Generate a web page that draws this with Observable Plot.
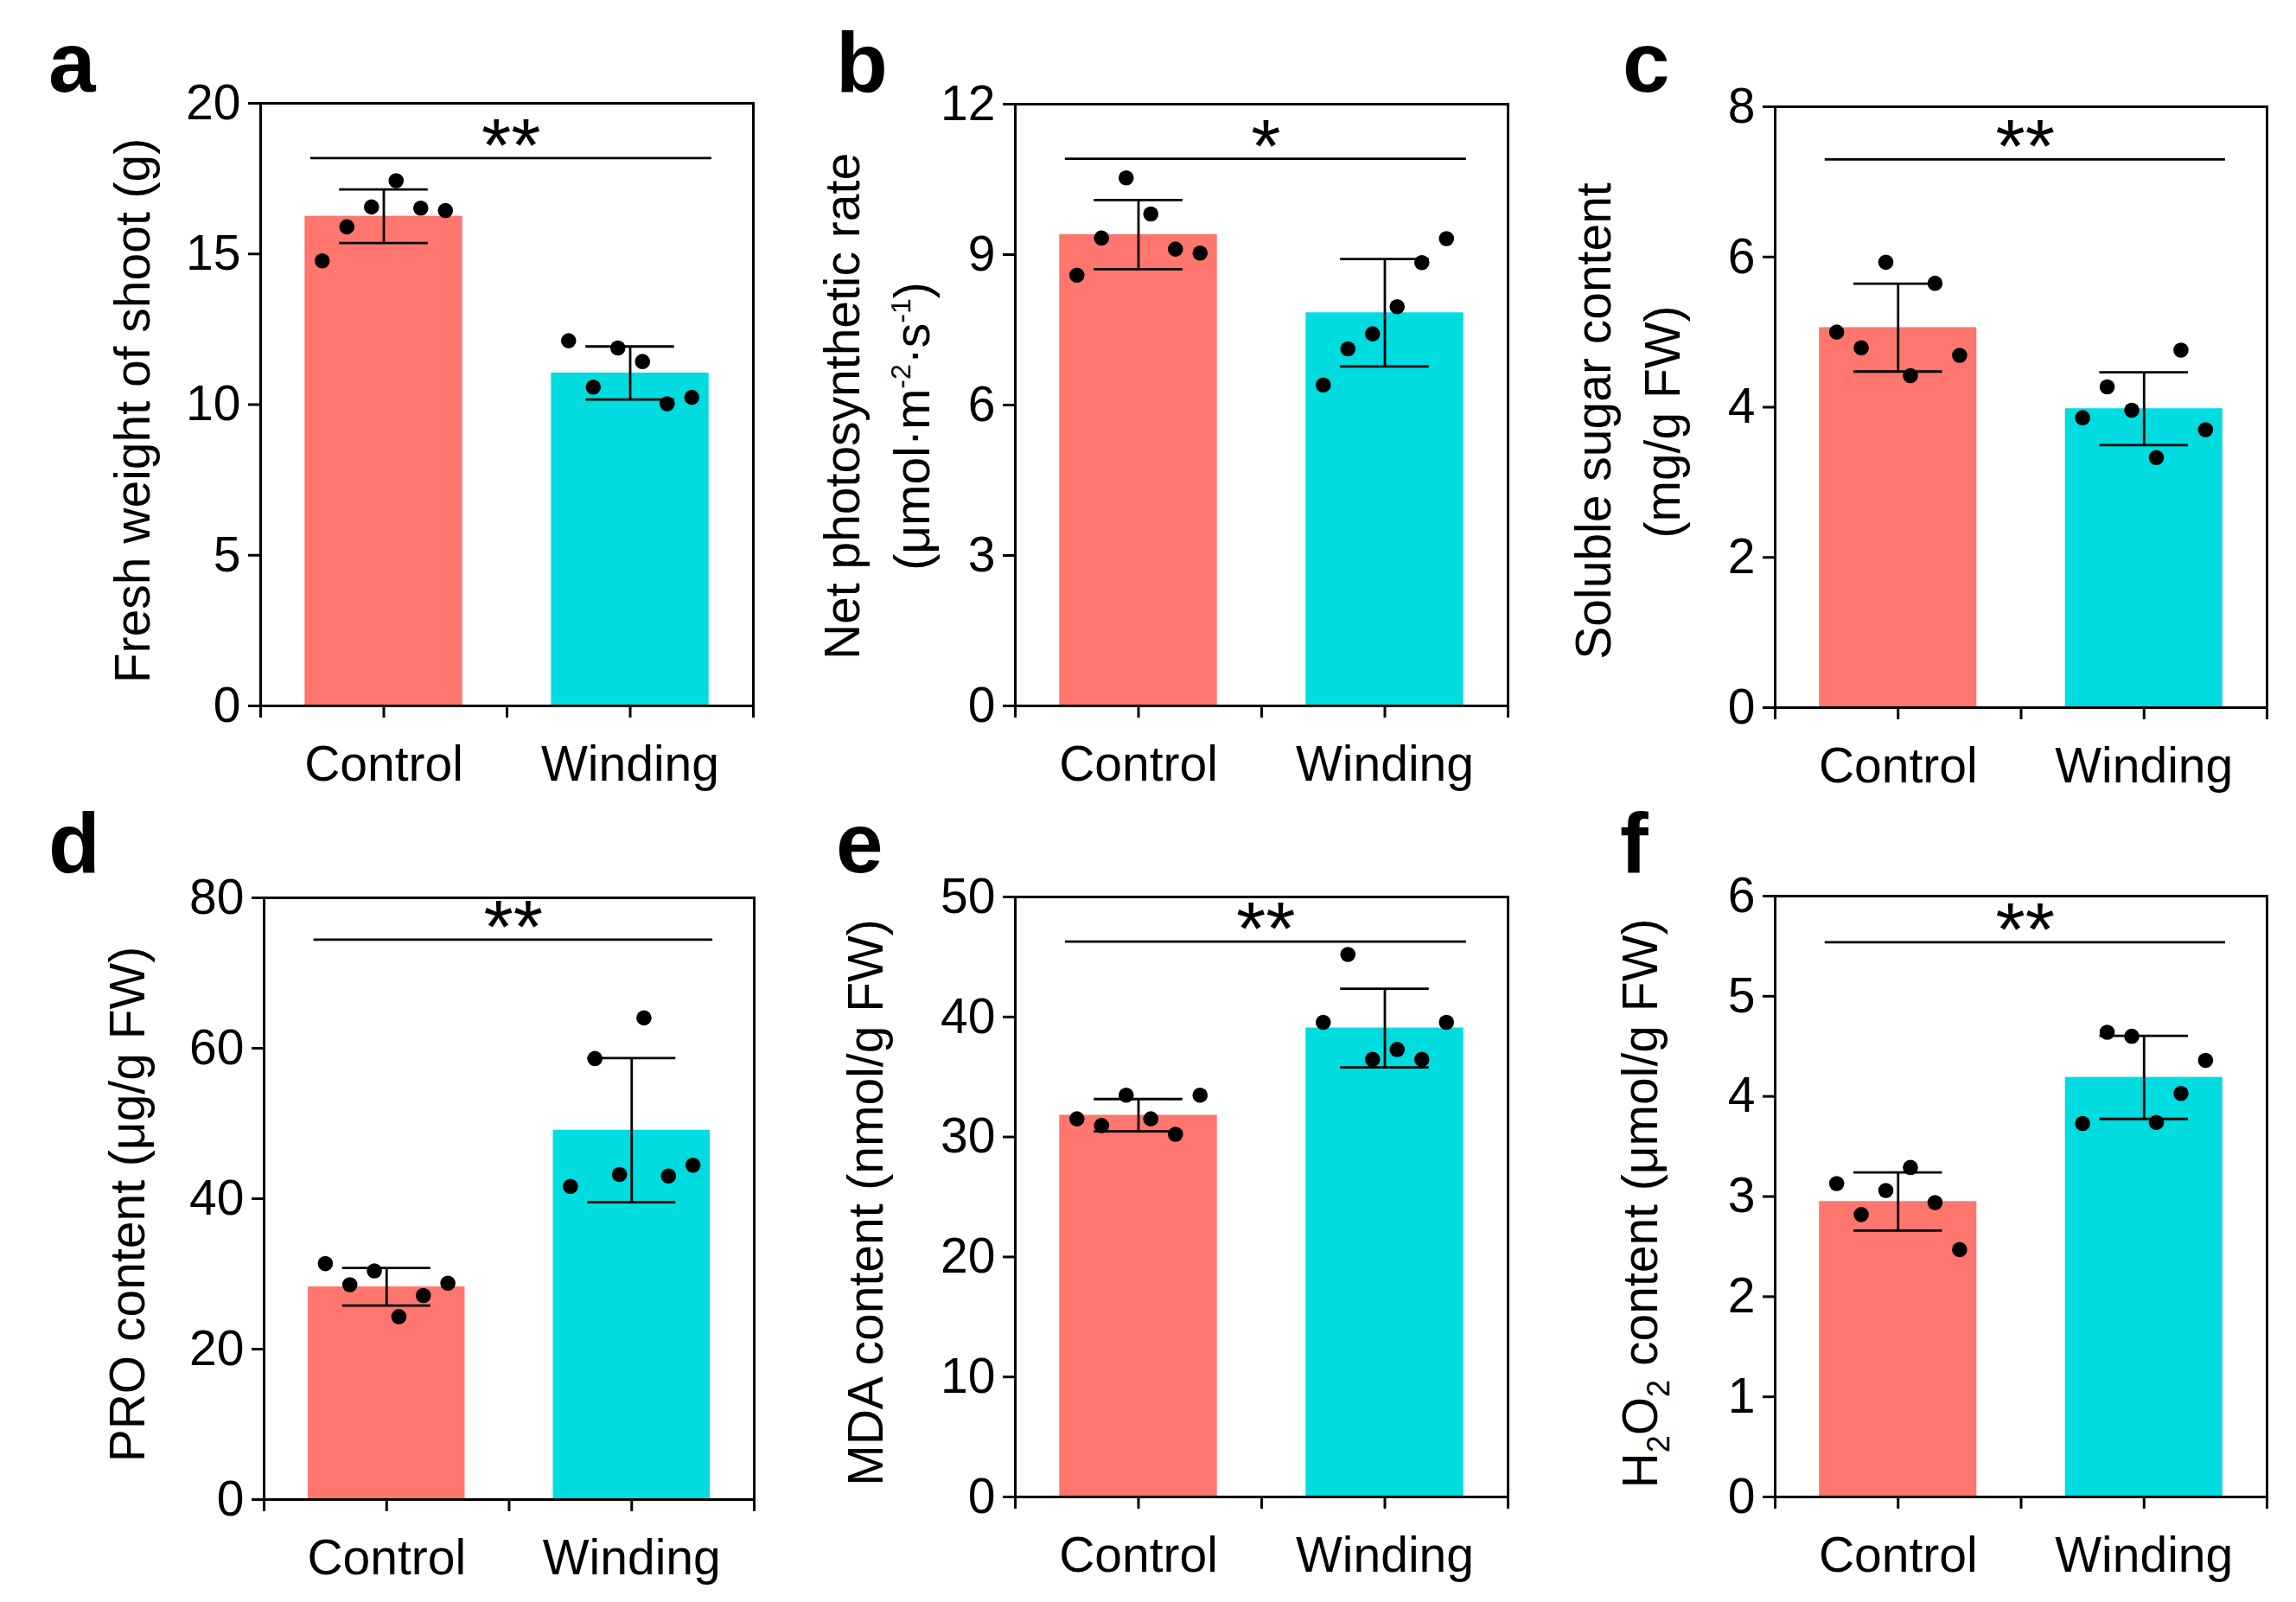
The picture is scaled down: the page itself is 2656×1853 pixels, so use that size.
<!DOCTYPE html>
<html>
<head>
<meta charset="utf-8">
<script src="https://cdn.jsdelivr.net/npm/d3@7"></script>
<script src="https://cdn.jsdelivr.net/npm/@observablehq/plot@0.6"></script>
<style>
  html, body { margin: 0; padding: 0; background: #ffffff; }
  #fig { position: relative; width: 2656px; height: 1853px; background: #ffffff; overflow: hidden;
         font-family: "Liberation Sans", Arial, sans-serif; }
  .panel { position: absolute; }
</style>
</head>
<body>
<div id="fig"></div>
<script>
// ---------------- data ----------------
const groups = ["Control", "Winding"];
const panelLetters = ["a", "b", "c", "d", "e", "f"];
const yMax = [20, 12, 8, 80, 50, 6];
const yTickValues = [
  [0, 5, 10, 15, 20],
  [0, 3, 6, 9, 12],
  [0, 2, 4, 6, 8],
  [0, 20, 40, 60, 80],
  [0, 10, 20, 30, 40, 50],
  [0, 1, 2, 3, 4, 5, 6]
];
const groupMeans = [
  [16.25, 11.05],
  [9.40, 7.84],
  [5.06, 3.98],
  [28.29, 49.11],
  [31.81, 39.08],
  [2.95, 4.19]
];
const groupSDs = [
  [0.89, 0.88],
  [0.69, 1.07],
  [0.585, 0.485],
  [2.50, 9.59],
  [1.35, 3.28],
  [0.29, 0.415]
];
const controlReplicates = [
  [14.77, 15.90, 16.56, 17.43, 16.52, 16.44],
  [8.59, 9.33, 10.53, 9.81, 9.11, 9.03],
  [5.00, 4.79, 5.93, 4.42, 5.65, 4.69],
  [31.37, 28.56, 30.41, 24.32, 27.12, 28.77],
  [31.51, 30.95, 33.48, 31.51, 30.22, 33.48],
  [3.13, 2.82, 3.06, 3.29, 2.94, 2.47]
];
const windingReplicates = [
  [12.12, 10.58, 11.88, 11.43, 10.03, 10.24],
  [6.40, 7.12, 7.42, 7.96, 8.84, 9.32],
  [3.86, 4.27, 3.96, 3.33, 4.76, 3.70],
  [41.64, 58.63, 43.22, 64.04, 43.01, 44.45],
  [39.55, 45.21, 36.47, 37.29, 36.47, 39.55],
  [3.73, 4.64, 4.60, 3.74, 4.03, 4.36]
];
const sigLevels = [18.18, 10.91, 7.30, 74.45, 46.28, 5.54];
const sigMarks = ["**", "*", "**", "**", "**", "**"];
// axis titles: lines of [text, kind] segments (kind: "", "sup", "sub")
const yTitles = [
  [[["Fresh weight of shoot (g)", ""]]],
  [[["Net photosynthetic rate", ""]],
   [["(μmol·m", ""], ["-2", "sup"], ["·s", ""], ["-1", "sup"], [")", ""]]],
  [[["Soluble sugar content", ""]], [["(mg/g FW)", ""]]],
  [[["PRO content (μg/g FW)", ""]]],
  [[["MDA content (nmol/g FW)", ""]]],
  [[["H", ""], ["2", "sub"], ["O", ""], ["2", "sub"], [" content (μmol/g FW)", ""]]]
];

// ---------------- layout & style ----------------
const barColors = ["#FF766E", "#00DCE0"];
const frames = [
  {L: 301, R: 871, T: 119, B: 816},
  {L: 1174, R: 1744, T: 120, B: 816},
  {L: 2053, R: 2622, T: 123, B: 818},
  {L: 305, R: 872, T: 1038, B: 1734},
  {L: 1174, R: 1744, T: 1037, B: 1731},
  {L: 2053, R: 2622, T: 1036, B: 1731}
];
const letterPos = [[-245, -13], [-207, -14], [-176, -17], [-249, -29], [-207, -28], [-179, -27]];
const titlePos = [
  [{bx: -128, cy: 356}],
  [{bx: -180, cy: 350}, {bx: -99, cy: 373}],
  [{bx: -190, cy: 364}, {bx: -110, cy: 365}],
  [{bx: -138, cy: 355}],
  [{bx: -153, cy: 354}],
  [{bx: -136, cy: 356}]
];
const BAR_HALF = 0.32, CAP_HALF = 0.18, DOT_STEP = 0.1;
const SIG_SPAN = [0.703, 2.331];
const FONT = "'Liberation Sans', Arial, sans-serif";
const mL = 301, mT = 119, mR = 8, mB = 104;

const fig = document.getElementById("fig");

panelLetters.forEach((letter, i) => {
  const fr = frames[i];
  const W = fr.R - fr.L, H = fr.B - fr.T;
  const bars = groups.map((g, j) => ({g, pos: j + 1, mean: groupMeans[i][j], sd: groupSDs[i][j]}));
  const reps = [];
  [controlReplicates[i], windingReplicates[i]].forEach((vals, j) =>
    vals.forEach((v, k) => reps.push({g: groups[j], pos: j + 1 + (k - (vals.length - 1) / 2) * DOT_STEP, v}))
  );

  const svg = Plot.plot({
    width: mL + W + mR,
    height: mT + H + mB,
    marginLeft: mL, marginTop: mT, marginRight: mR, marginBottom: mB,
    style: {fontFamily: FONT, fontSize: "57px", background: "none", maxWidth: "none", overflow: "visible", color: "black"},
    x: {domain: [0.5, 2.5], label: null},
    y: {domain: [0, yMax[i]], label: null},
    color: {domain: groups, range: barColors},
    marks: [
      Plot.rect(bars, {x1: d => d.pos - BAR_HALF, x2: d => d.pos + BAR_HALF, y1: () => 0, y2: "mean", fill: "g"}),
      Plot.ruleX(bars, {x: "pos", y1: d => d.mean - d.sd, y2: d => d.mean + d.sd, stroke: "black", strokeWidth: 2.8}),
      Plot.ruleY(bars, {y: d => d.mean + d.sd, x1: d => d.pos - CAP_HALF, x2: d => d.pos + CAP_HALF, stroke: "black", strokeWidth: 2.8}),
      Plot.ruleY(bars, {y: d => d.mean - d.sd, x1: d => d.pos - CAP_HALF, x2: d => d.pos + CAP_HALF, stroke: "black", strokeWidth: 2.8}),
      Plot.dot(reps, {x: "pos", y: "v", r: 8.8, fill: "black", stroke: "none"}),
      Plot.ruleY([sigLevels[i]], {y: d => d, x1: () => SIG_SPAN[0], x2: () => SIG_SPAN[1], stroke: "black", strokeWidth: 2.8}),
      Plot.text([sigLevels[i]], {x: () => (SIG_SPAN[0] + SIG_SPAN[1]) / 2, y: d => d, text: () => sigMarks[i],
        lineAnchor: "bottom", dy: 15, fontSize: 88, fill: "black"}),
      Plot.frame({stroke: "black", strokeWidth: 3}),
      Plot.axisY({ticks: yTickValues[i], tickFormat: d => String(d), tickSize: 14, tickPadding: 9, strokeWidth: 3, label: null}),
      Plot.axisX({ticks: [0.5, 1, 1.5, 2, 2.5], tickFormat: d => (d === 1 ? groups[0] : d === 2 ? groups[1] : ""),
        tickSize: 14, tickPadding: 32, strokeWidth: 3, label: null})
    ]
  });

  const s = d3.select(svg);
  // panel letter
  s.append("text")
    .attr("x", mL + letterPos[i][0])
    .attr("y", mT + letterPos[i][1])
    .attr("text-anchor", "start")
    .attr("font-size", 98).attr("font-weight", "bold").attr("fill", "black")
    .attr("font-family", FONT)
    .text(letter);
  // y-axis title lines
  yTitles[i].forEach((segs, li) => {
    const p = titlePos[i][li];
    const t = s.append("text")
      .attr("transform", `translate(${mL + p.bx},${mT + p.cy}) rotate(-90)`)
      .attr("text-anchor", "middle").attr("font-size", 57).attr("fill", "black")
      .attr("font-family", FONT);
    let shift = 0;
    segs.forEach(([str, kind]) => {
      const target = kind === "sup" ? -22 : kind === "sub" ? 14 : 0;
      const ts = t.append("tspan").attr("dy", target - shift).text(str);
      if (kind === "sup") ts.attr("font-size", 32);
      if (kind === "sub") ts.attr("font-size", 36);
      shift = target;
    });
  });

  const div = document.createElement("div");
  div.className = "panel";
  div.style.left = (fr.L - mL) + "px";
  div.style.top = (fr.T - mT) + "px";
  div.appendChild(svg);
  fig.appendChild(div);
});
</script>
</body>
</html>
